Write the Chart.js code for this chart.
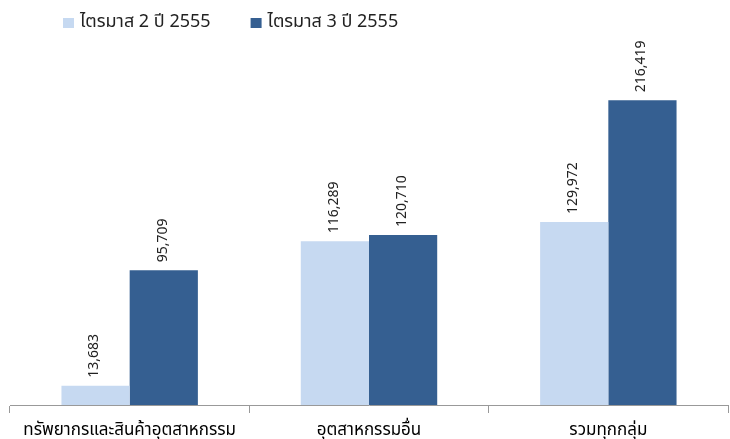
<!DOCTYPE html>
<html>
<head>
<meta charset="utf-8">
<script src="https://cdn.jsdelivr.net/npm/chart.js@4"></script>
<style>
  html, body { margin: 0; padding: 0; background: #fff; }
  #wrap { width: 730px; height: 439px; }
</style>
</head>
<body>
<div id="wrap"><canvas id="barChart"></canvas></div>
<script>
const categories = ["ทรัพยากรและสินค้าอุตสาหกรรม", "อุตสาหกรรมอื่น", "รวมทุกกลุ่ม"];
const seriesNames = ["ไตรมาส 2 ปี 2555", "ไตรมาส 3 ปี 2555"];
const q2Values = [13683, 116289, 129972];
const q3Values = [95709, 120710, 216419];
const colors = ['#c6d9f1', '#355f91'];

const FONT = "Tahoma, 'Noto Sans Thai', 'Noto Sans', 'DejaVu Sans', sans-serif";

// rotated value labels above each bar
const valueLabels = {
    id: 'valueLabels',
    afterDatasetsDraw(chart) {
        const ctx = chart.ctx;
        ctx.save();
        ctx.font = "14px " + FONT;
        ctx.fillStyle = "#222";
        ctx.textAlign = "left";
        ctx.textBaseline = "middle";
        chart.data.datasets.forEach((ds, i) => {
            chart.getDatasetMeta(i).data.forEach((bar, j) => {
                ctx.save();
                ctx.translate(bar.x, bar.y - 8);
                ctx.rotate(-Math.PI / 2);
                ctx.fillText(ds.data[j].toLocaleString('en-US'), 0, 0);
                ctx.restore();
            });
        });
        ctx.restore();
    }
};

// legend in the top-left, drawn by hand so its spacing fits
const topLegend = {
    id: 'topLegend',
    afterDraw(chart) {
        const ctx = chart.ctx;
        ctx.save();
        ctx.font = "18px " + FONT;
        ctx.textBaseline = "middle";
        ctx.textAlign = "left";
        let x = 63;
        const y = 23;
        chart.data.datasets.forEach((ds) => {
            ctx.fillStyle = ds.backgroundColor;
            ctx.fillRect(x, y - 5, 11, 10);
            ctx.fillStyle = "#222";
            ctx.fillText(ds.label, x + 17, y);
            x += 17 + ctx.measureText(ds.label).width + 40;
        });
        ctx.restore();
    }
};

const CHART = document.getElementById("barChart");

let barChart = new Chart(CHART, {
    type: 'bar',
    data: {
        labels: categories,
        datasets: [{
            label: seriesNames[0],
            data: q2Values,
            backgroundColor: colors[0],
            borderWidth: 0
        }, {
            label: seriesNames[1],
            data: q3Values,
            backgroundColor: colors[1],
            borderWidth: 0
        }]
    },
    options: {
        responsive: true,
        maintainAspectRatio: false,
        animation: false,
        layout: { padding: { left: 10, right: 2, top: 53, bottom: 0 } },
        datasets: {
            bar: { categoryPercentage: 0.57, barPercentage: 1.0 }
        },
        plugins: {
            legend: { display: false },
            tooltip: { enabled: false }
        },
        scales: {
            x: {
                afterFit(scale) { scale.height = 34; },
                grid: {
                    offset: true,
                    drawOnChartArea: false,
                    drawTicks: true,
                    tickLength: 8,
                    color: '#999'
                },
                border: { display: true, color: '#999' },
                ticks: {
                    font: { family: FONT, size: 17, lineHeight: 1 },
                    color: '#000',
                    padding: 10,
                    maxRotation: 0
                }
            },
            y: {
                display: false,
                min: 0,
                max: 250000
            }
        }
    },
    plugins: [valueLabels, topLegend]
});
</script>
</body>
</html>
